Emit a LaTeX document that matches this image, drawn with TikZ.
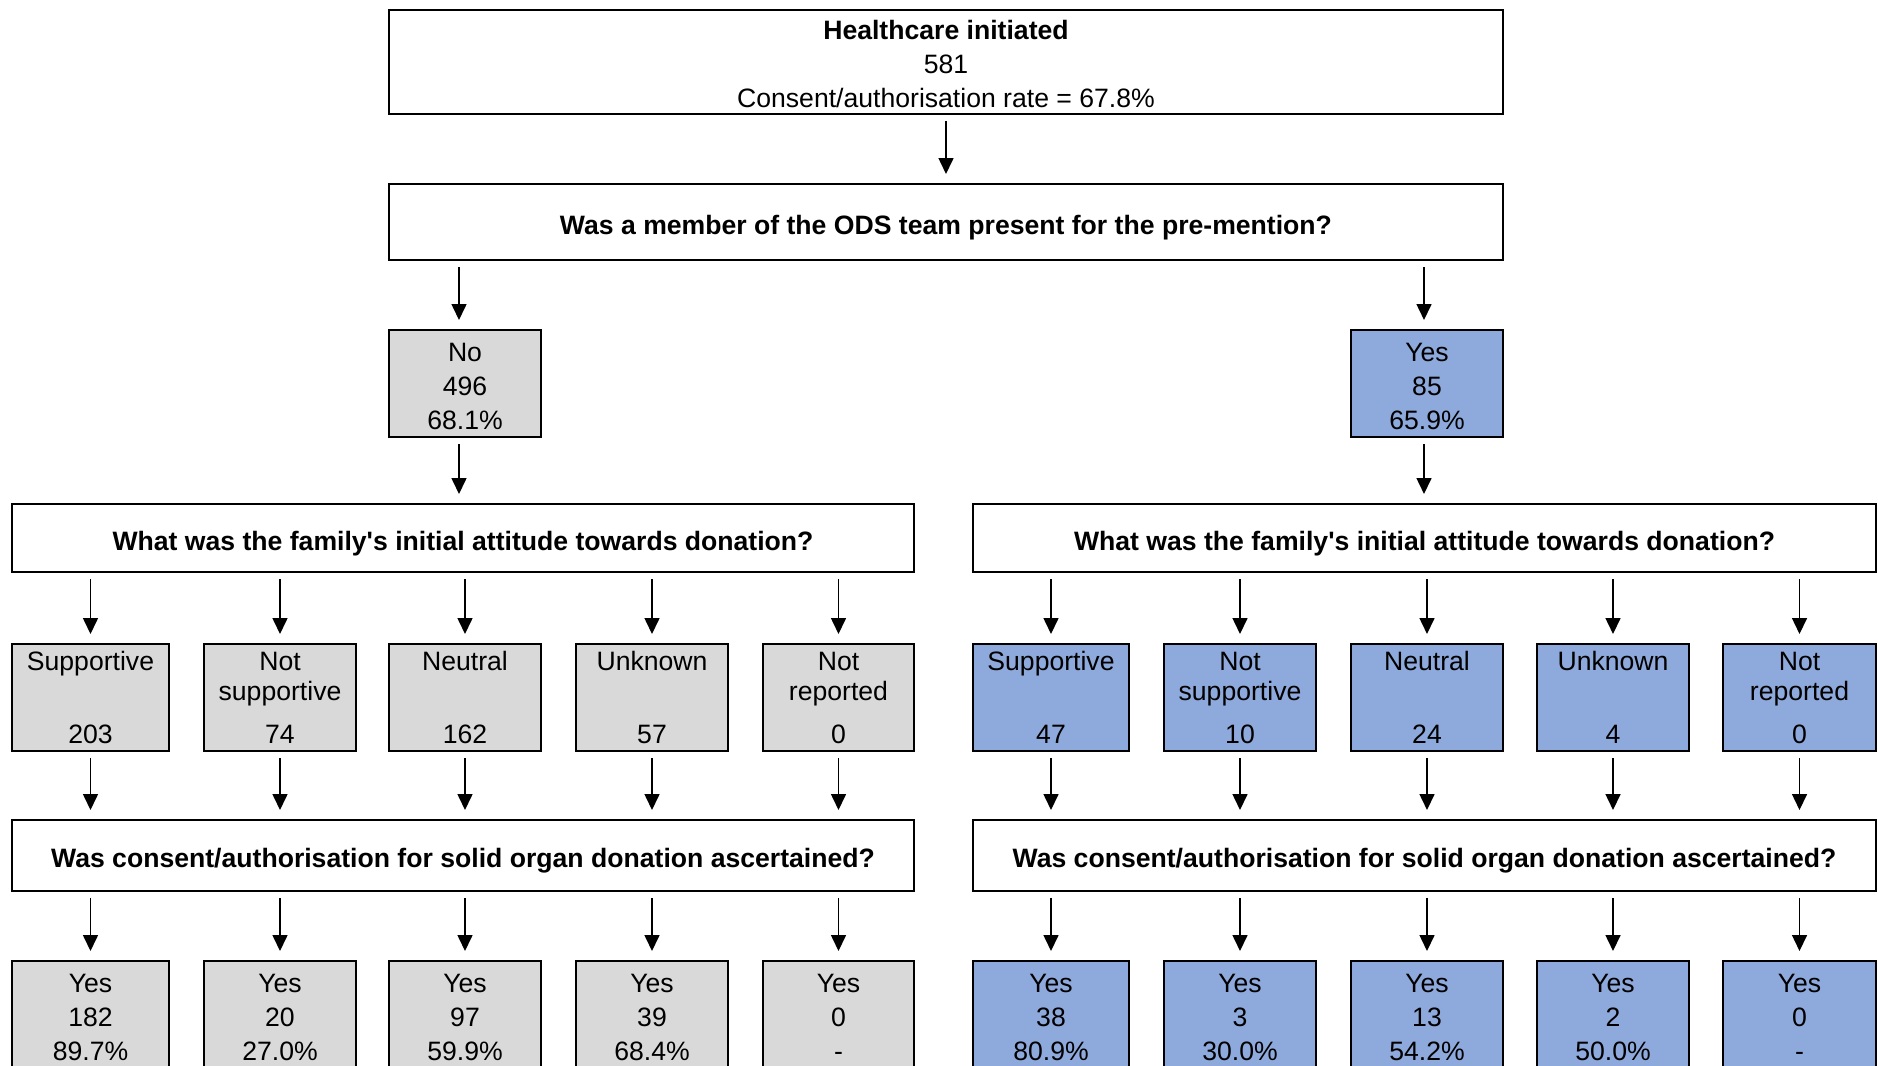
\documentclass[tikz,border=0pt]{standalone}
\usepackage{fontspec}
\setmainfont{Liberation Sans}
\usetikzlibrary{arrows.meta}
\definecolor{boxgrey}{RGB}{217,217,217}
\definecolor{boxblue}{RGB}{142,169,219}
\newcommand{\fsize}{\fontsize{13.3}{17}\selectfont}
\newcommand{\lift}{\rule{0pt}{12pt}}
\tikzset{
    common/.style={draw, line width=1pt, inner sep=0pt, align=center, font=\fsize},
    question/.style={common, fill=white, font=\fsize\bfseries, text height=12pt, text depth=0pt},
    count/.style={common, minimum width=76pt, minimum height=53.5pt},
    attitude/.style={common, minimum width=76pt, minimum height=53.5pt, font=\fontsize{13.3}{15}\selectfont},
    flow/.style={-{Triangle[length=8pt,width=7.5pt]}, line width=0.8pt, shorten <=3pt, shorten >=4.5pt},
}

\begin{document}
\begin{tikzpicture}[x=0.5pt, y=-0.5pt]
    \useasboundingbox (0,0) rectangle (1878,1065);
    \clip (0,0) rectangle (1878,1065);

    \node[common, fill=white, minimum width=557pt, minimum height=52pt] (start) at (946,62)
        {\lift\textbf{Healthcare initiated}\\581\\Consent/authorisation rate = 67.8\%};
    \node[question, minimum width=557pt, minimum height=38pt] (ods) at (946,222)
        {Was a member of the ODS team present for the pre-mention?};
    \node[count, fill=boxgrey] (no) at (465,383.5) {\lift No\\496\\68.1\%};
    \node[count, fill=boxblue] (yes) at (1427,383.5) {\lift Yes\\85\\65.9\%};

    \node[question, minimum width=451pt, minimum height=34pt] (qattL) at (463,538)
        {What was the family\textquotesingle s initial attitude towards donation?};
    \node[question, minimum width=451.5pt, minimum height=34pt] (qattR) at (1424.5,538)
        {What was the family\textquotesingle s initial attitude towards donation?};
    \node[question, minimum width=451pt, minimum height=35.5pt] (qconsL) at (463,855.5)
        {Was consent/authorisation for solid organ donation ascertained?};
    \node[question, minimum width=451.5pt, minimum height=35.5pt] (qconsR) at (1424.5,855.5)
        {Was consent/authorisation for solid organ donation ascertained?};

    \draw[flow] (start) -- (ods);
    \draw[flow] ([xshift=-3pt]ods.south -| no) -- ([xshift=-3pt]no.north);
    \draw[flow] ([xshift=-1.5pt]ods.south -| yes) -- ([xshift=-1.5pt]yes.north);
    \draw[flow] ([xshift=-3pt]no.south) -- ([xshift=-3pt]qattL.north -| no);
    \draw[flow] ([xshift=-1.5pt]yes.south) -- ([xshift=-1.5pt]qattR.north -| yes);

    % no ODS member present
    \foreach \i/\x/\w/\att/\n/\m/\p in {
        1/90.5/157/{Supportive\\\mbox{}}/203/182/89.7\%,
        2/280/152/{Not\\supportive}/74/20/27.0\%,
        3/465/152/{Neutral\\\mbox{}}/162/97/59.9\%,
        4/652/152/{Unknown\\\mbox{}}/57/39/68.4\%,
        5/838.5/151/{Not\\reported}/0/0/-}
    {
        \node[attitude, fill=boxgrey, minimum width=\w*0.5pt] (attL-\i) at (\x,697.5) {\att\\[6.5pt]\n};
        \node[count, fill=boxgrey, minimum width=\w*0.5pt] (resL-\i) at (\x,1014.5) {\lift Yes\\\m\\\p};
        \draw[flow] (qattL.south -| attL-\i) -- (attL-\i);
        \draw[flow] (attL-\i) -- (qconsL.north -| attL-\i);
        \draw[flow] (qconsL.south -| resL-\i) -- (resL-\i);
    }

    % ODS member present
    \foreach \i/\x/\w/\att/\n/\m/\p in {
        1/1051/156/{Supportive\\\mbox{}}/47/38/80.9\%,
        2/1240/152/{Not\\supportive}/10/3/30.0\%,
        3/1427/152/{Neutral\\\mbox{}}/24/13/54.2\%,
        4/1613/152/{Unknown\\\mbox{}}/4/2/50.0\%,
        5/1799.5/153/{Not\\reported}/0/0/-}
    {
        \node[attitude, fill=boxblue, minimum width=\w*0.5pt] (attR-\i) at (\x,697.5) {\att\\[6.5pt]\n};
        \node[count, fill=boxblue, minimum width=\w*0.5pt] (resR-\i) at (\x,1014.5) {\lift Yes\\\m\\\p};
        \draw[flow] (qattR.south -| attR-\i) -- (attR-\i);
        \draw[flow] (attR-\i) -- (qconsR.north -| attR-\i);
        \draw[flow] (qconsR.south -| resR-\i) -- (resR-\i);
    }
\end{tikzpicture}
\end{document}
